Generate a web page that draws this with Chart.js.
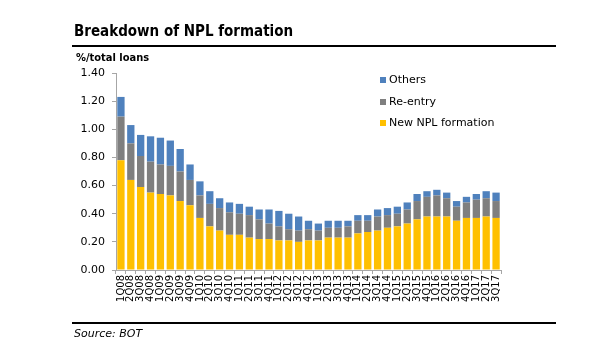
<!DOCTYPE html>
<html>
<head>
<meta charset="utf-8">
<script src="https://cdn.jsdelivr.net/npm/chart.js@4/dist/chart.umd.min.js"></script>
<style>
  html, body { margin: 0; padding: 0; background: #fff; }
  #wrap { position: relative; width: 600px; height: 360px; overflow: hidden; font-family: "DejaVu Sans", Verdana, sans-serif; color: #000; }
  #c { position: absolute; left: 0; top: 0; }
  .abs { position: absolute; white-space: nowrap; }
  #title { left: 74px; top: 22px; font-family: "DejaVu Sans Condensed", "DejaVu Sans", sans-serif; font-weight: bold; font-size: 15px; }
  #unit { left: 76px; top: 51px; font-family: "DejaVu Sans Condensed", "DejaVu Sans", sans-serif; font-weight: bold; font-size: 11px; }
  #rule1 { left: 72px; top: 45px; width: 484px; height: 2px; background: #000; }
  #rule2 { left: 72px; top: 322px; width: 484px; height: 2px; background: #000; }
  #src { left: 74px; top: 327px; font-style: italic; font-size: 11px; }
  .leg { font-size: 11px; left: 380px; }
  .leg span.sw { display: inline-block; width: 6px; height: 6px; margin-right: 3px; vertical-align: 0px; }
</style>
</head>
<body>
<div id="wrap">
  <canvas id="c" width="600" height="360"></canvas>
  <div class="abs" id="title">Breakdown of NPL formation</div>
  <div class="abs" id="rule1"></div>
  <div class="abs" id="unit">%/total loans</div>
  <div class="abs leg" style="top:73px"><span class="sw" style="background:#4F81BD"></span>Others</div>
  <div class="abs leg" style="top:95px"><span class="sw" style="background:#7F7F7F"></span>Re-entry</div>
  <div class="abs leg" style="top:116px"><span class="sw" style="background:#FFC000"></span>New NPL formation</div>
  <div class="abs" id="rule2"></div>
  <div class="abs" id="src">Source: BOT</div>
</div>
<script>
const categories = [
  "1Q08","2Q08","3Q08","4Q08",
  "1Q09","2Q09","3Q09","4Q09",
  "1Q10","2Q10","3Q10","4Q10",
  "1Q11","2Q11","3Q11","4Q11",
  "1Q12","2Q12","3Q12","4Q12",
  "1Q13","2Q13","3Q13","4Q13",
  "1Q14","2Q14","3Q14","4Q14",
  "1Q15","2Q15","3Q15","4Q15",
  "1Q16","2Q16","3Q16","4Q16",
  "1Q17","2Q17","3Q17"
];
const newNPL = [
  0.78,0.64,0.59,0.55,
  0.54,0.53,0.49,0.46,
  0.37,0.31,0.28,0.25,
  0.25,0.23,0.22,0.22,
  0.21,0.21,0.20,0.21,
  0.21,0.23,0.23,0.23,
  0.26,0.27,0.28,0.30,
  0.31,0.33,0.36,0.38,
  0.38,0.38,0.35,0.37,
  0.37,0.38,0.37
];
const reEntry = [
  0.31,0.26,0.22,0.22,
  0.21,0.21,0.21,0.18,
  0.16,0.16,0.16,0.16,
  0.15,0.16,0.14,0.11,
  0.10,0.08,0.08,0.08,
  0.07,0.07,0.07,0.08,
  0.09,0.08,0.10,0.09,
  0.09,0.10,0.13,0.14,
  0.15,0.13,0.10,0.11,
  0.13,0.13,0.12
];
const others = [
  0.14,0.13,0.15,0.18,
  0.19,0.18,0.16,0.11,
  0.10,0.09,0.07,0.07,
  0.07,0.06,0.07,0.10,
  0.11,0.11,0.10,0.06,
  0.05,0.05,0.05,0.04,
  0.04,0.04,0.05,0.05,
  0.05,0.05,0.05,0.04,
  0.04,0.04,0.04,0.04,
  0.04,0.05,0.06
];
const yTicks = [0, 0.2, 0.4, 0.6, 0.8, 1.0, 1.2, 1.4];

const axisColor = "#A6A6A6";
new Chart(document.getElementById("c"), {
  type: "bar",
  data: {
    labels: categories,
    datasets: [
      { label: "New NPL formation", data: newNPL, backgroundColor: "#FFC000" },
      { label: "Re-entry", data: reEntry, backgroundColor: "#7F7F7F" },
      { label: "Others", data: others, backgroundColor: "#4F81BD" }
    ]
  },
  options: {
    responsive: false,
    animation: false,
    devicePixelRatio: 1,
    layout: { padding: { left: 0, top: 73, right: 99, bottom: 0 } },
    datasets: { bar: { categoryPercentage: 1.0, barPercentage: 0.74 } },
    plugins: { legend: { display: false }, tooltip: { enabled: false } },
    scales: {
      x: {
        stacked: true,
        afterFit: s => { s.height = 90; },
        border: { display: true, color: axisColor, width: 1 },
        grid: { display: true, drawOnChartArea: false, drawTicks: true, tickLength: 4, color: axisColor, offset: true },
        ticks: {
          autoSkip: false, minRotation: 90, maxRotation: 90, padding: 1,
          color: "#000", font: { family: "DejaVu Sans", size: 10 }
        }
      },
      y: {
        stacked: true,
        min: 0, max: 1.4,
        afterFit: s => { s.width = 116; },
        afterBuildTicks: s => { s.ticks = yTicks.map(v => ({ value: v })); },
        border: { display: true, color: axisColor, width: 1 },
        grid: { display: true, drawOnChartArea: false, drawTicks: true, tickLength: 4, color: axisColor },
        ticks: {
          padding: 7, color: "#000", font: { family: "DejaVu Sans", size: 11 },
          callback: v => Number(v).toFixed(2)
        }
      }
    }
  }
});
</script>
</body>
</html>
